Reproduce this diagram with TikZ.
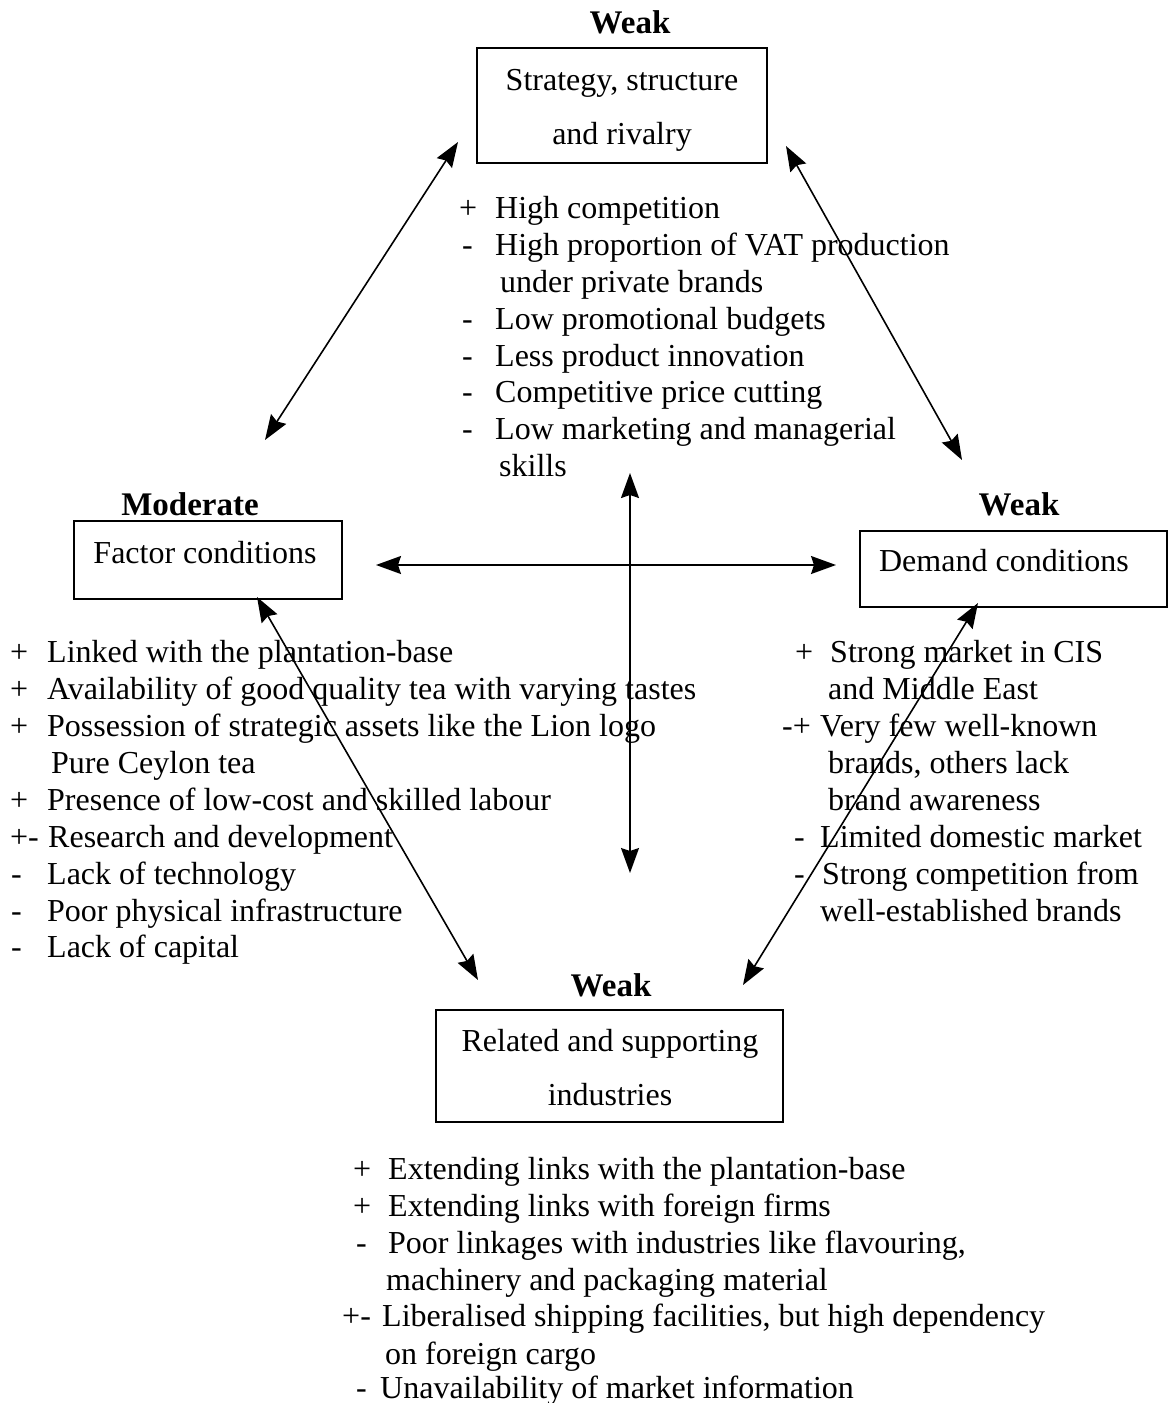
\documentclass[tikz,border=0pt]{standalone}
\usepackage{fontspec}
\setmainfont{Liberation Serif}
\usetikzlibrary{arrows.meta}
\tikzset{
  box/.style={draw, line width=1.8pt, inner sep=0pt},
  txt/.style={font=\fontsize{32}{36}\selectfont, inner sep=0pt, anchor=base west},
  ctxt/.style={font=\fontsize{32}{36}\selectfont, inner sep=0pt, anchor=base},
  rating/.style={font=\fontsize{33}{36}\selectfont\bfseries, inner sep=0pt, anchor=base},
  link/.style={line width=1.6pt, {Stealth[length=25pt,width=18pt,inset=3pt]}-{Stealth[length=25pt,width=18pt,inset=3pt]}}
}
\begin{document}
\begin{tikzpicture}[x=1pt,y=-1pt]
\useasboundingbox (0,0) rectangle (1172,1403);

% ---- the four determinant boxes ----
\node[box, minimum width=290, minimum height=115] (ssr) at (622,105.5) {};
\node[ctxt] (ssr1) at (622,90) {Strategy, structure};
\node[ctxt] (ssr2) at (622,144) {and rivalry};
\node[rating] (ssrw) at (630,33) {Weak};

\node[box, minimum width=268, minimum height=78] (fc) at (208,560) {};
\node[ctxt] (fct) at (205,563) {Factor conditions};
\node[rating] (fcw) at (190,515) {Moderate};

\node[box, minimum width=307, minimum height=76] (dc) at (1013.5,569) {};
\node[ctxt] (dct) at (1004,571) {Demand conditions};
\node[rating] (dcw) at (1019,515) {Weak};

\node[box, minimum width=347, minimum height=112] (rsi) at (609.5,1066) {};
\node[ctxt] (rsi1) at (610,1051) {Related and supporting};
\node[ctxt] (rsi2) at (610,1105) {industries};
\node[rating] (rsiw) at (611,996) {Weak};

% ---- end points of the links ----
\coordinate (a1) at (458,142);  \coordinate (a2) at (265,440);
\coordinate (b1) at (786,146);  \coordinate (b2) at (962,460);
\coordinate (c1) at (376,565);  \coordinate (c2) at (836,565);
\coordinate (d1) at (630,473);  \coordinate (d2) at (630,873);
\coordinate (e1) at (257,597);  \coordinate (e2) at (478,980);
\coordinate (f1) at (978,603);  \coordinate (f2) at (743,985);

% ---- strategy, structure and rivalry ----
\node[txt] (s1m) at (459,218) {+};  \node[txt] (s1) at (495,218) {High competition};
\node[txt] (s2m) at (462,255) {-};  \node[txt] (s2) at (495,255) {High proportion of VAT production};
\node[txt] (s3) at (500,292) {under private brands};
\node[txt] (s4m) at (462,329) {-};  \node[txt] (s4) at (495,329) {Low promotional budgets};
\node[txt] (s5m) at (462,366) {-};  \node[txt] (s5) at (495,366) {Less product innovation};
\node[txt] (s6m) at (462,402) {-};  \node[txt] (s6) at (495,402) {Competitive price cutting};
\node[txt] (s7m) at (462,439) {-};  \node[txt] (s7) at (495,439) {Low marketing and managerial};
\node[txt] (s8) at (499,476) {skills};

% ---- factor conditions ----
\node[txt] (f1m) at (10,662) {+};   \node[txt] (f1t) at (47,662) {Linked with the plantation-base};
\node[txt] (f2m) at (10,699) {+};   \node[txt] (f2t) at (47,699) {Availability of good quality tea with varying tastes};
\node[txt] (f3m) at (10,736) {+};   \node[txt] (f3t) at (47,736) {Possession of strategic assets like the Lion logo};
\node[txt] (f4t) at (51,773) {Pure Ceylon tea};
\node[txt] (f5m) at (10,810) {+};   \node[txt] (f5t) at (47,810) {Presence of low-cost and skilled labour};
\node[txt] (f6m) at (10,847) {+-};  \node[txt] (f6t) at (48,847) {Research and development};
\node[txt] (f7m) at (11,884) {-};   \node[txt] (f7t) at (47,884) {Lack of technology};
\node[txt] (f8m) at (11,921) {-};   \node[txt] (f8t) at (47,921) {Poor physical infrastructure};
\node[txt] (f9m) at (11,957) {-};   \node[txt] (f9t) at (47,957) {Lack of capital};

% ---- demand conditions ----
\node[txt] (g1m) at (795,662) {+};  \node[txt] (g1t) at (830,662) {Strong market in CIS};
\node[txt] (g2t) at (828,699) {and Middle East};
\node[txt] (g3m) at (782,736) {-+};  \node[txt] (g3t) at (820,736) {Very few well-known};
\node[txt] (g4t) at (828,773) {brands, others lack};
\node[txt] (g5t) at (828,810) {brand awareness};
\node[txt] (g6m) at (794,847) {-};  \node[txt] (g6t) at (820,847) {Limited domestic market};
\node[txt] (g7m) at (794,884) {-};  \node[txt] (g7t) at (822,884) {Strong competition from};
\node[txt] (g8t) at (820,921) {well-established brands};

% ---- related and supporting industries ----
\node[txt] (r1m) at (353,1179) {+};  \node[txt] (r1t) at (388,1179) {Extending links with the plantation-base};
\node[txt] (r2m) at (353,1216) {+};  \node[txt] (r2t) at (388,1216) {Extending links with foreign firms};
\node[txt] (r3m) at (356,1253) {-};  \node[txt] (r3t) at (388,1253) {Poor linkages with industries like flavouring,};
\node[txt] (r4t) at (386,1290) {machinery and packaging material};
\node[txt] (r5m) at (342,1326) {+-}; \node[txt] (r5t) at (382,1326) {Liberalised shipping facilities, but high dependency};
\node[txt] (r6t) at (385,1364) {on foreign cargo};
\node[txt] (r7m) at (356,1398) {-};  \node[txt] (r7t) at (380,1398) {Unavailability of market information};

% ---- links between the determinants ----
\draw[link] (a1) -- (a2);
\draw[link] (b1) -- (b2);
\draw[link] (c1) -- (c2);
\draw[link] (d1) -- (d2);
\draw[link] (e1) -- (e2);
\draw[link] (f1) -- (f2);
\end{tikzpicture}
\end{document}
